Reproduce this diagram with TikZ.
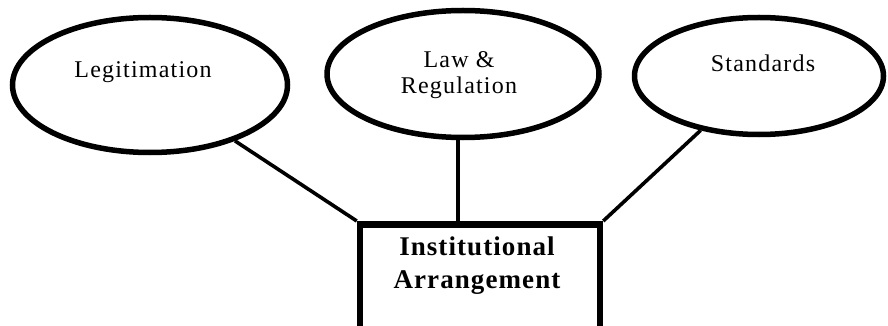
\documentclass[tikz,border=0pt]{standalone}
\usepackage{fontspec}
\setmainfont{Liberation Serif}
\usetikzlibrary{shapes.geometric}
\newfontfamily\ovalfont[LetterSpace=5]{Liberation Serif}
\newfontfamily\boxfont[LetterSpace=4]{Liberation Serif}
\begin{document}
\begin{tikzpicture}[x=1pt,y=-1pt,
  oval/.style={ellipse, draw=black, line width=5.5pt, inner sep=0pt, fill=white},
  ovaltext/.style={font=\ovalfont\fontsize{24}{26}\selectfont, align=center, inner sep=0pt},
  mainbox/.style={draw=black, line width=6.5pt, inner sep=0pt, fill=white},
  boxtext/.style={font=\boxfont\bfseries\fontsize{27}{33}\selectfont, align=center, inner sep=0pt},
  link/.style={draw=black, line width=3.6pt}]
  \useasboundingbox (0,0) rectangle (888,326);
  \clip (0,0) rectangle (888,326);

  % the three outer factors
  \node[oval, minimum width=275pt, minimum height=135pt] (leg) at (150,85) {};
  \node[oval, minimum width=272pt, minimum height=127pt] (law) at (463,74) {};
  \node[oval, minimum width=249pt, minimum height=117pt] (std) at (759,76) {};

  % central box, running past the lower edge
  \node[mainbox, minimum width=240pt, minimum height=140pt, anchor=north] (inst) at (480,221) {};

  % connectors
  \draw[link] (leg) -- (inst.north west);
  \draw[link] (std) -- (inst.north east);
  \draw[link] ([xshift=-5pt]law.south) -- ([xshift=-5pt]law.south |- inst.north);

  % labels
  \node[ovaltext] (legtext) at (143,72) {Legitimation};
  \node[ovaltext] (lawtext) at (459,75) {Law \&\\Regulation};
  \node[ovaltext] (stdtext) at (763,63) {Standards};
  \node[boxtext] (insttext) at (477,266) {Institutional\\Arrangement};
\end{tikzpicture}
\end{document}
